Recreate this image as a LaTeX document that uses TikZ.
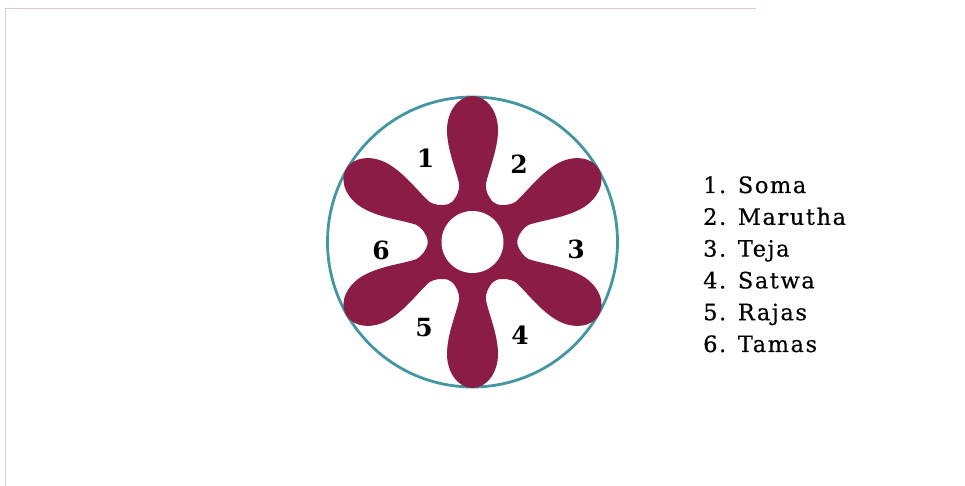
\documentclass[tikz,border=0pt]{standalone}
\usepackage{fontspec}
\setmainfont{DejaVu Serif}
\newfontfamily\legendfont[LetterSpace=7,FakeBold=0.5]{DejaVu Serif}
\definecolor{petal}{RGB}{138,28,70}
\definecolor{rim}{RGB}{68,150,162}
\definecolor{scan}{RGB}{228,196,210}
\tikzset{
  numlabel/.style={font=\bfseries\fontsize{25}{29}\selectfont, inner sep=0pt},
  legendline/.style={font=\legendfont\fontsize{22.5}{26}\selectfont, anchor=base west, inner sep=0pt},
  petalshape/.pic={
    \fill[petal] (38,-22) .. controls (46,-15) and (51,-13.4) .. (57,-13.2)
      .. controls (70,-15.5) and (92,-25.5) .. (112,-25.5)
      arc[start angle=-90, end angle=90, x radius=34, y radius=25.5]
      .. controls (92,25.5) and (70,15.5) .. (57,13.2)
      .. controls (51,13.4) and (46,15) .. (38,22) -- cycle;
  }
}
\begin{document}
\begin{tikzpicture}[x=1pt,y=1pt]
\useasboundingbox (0,0) rectangle (965,486);
% faint scan edges
\coordinate (tl) at (5,478);
\coordinate (tr) at (756,478);
\coordinate (bl) at (5,0);
\draw[scan, line width=0.6pt] (tr) -- (tl) -- (bl);
% outer circle
\coordinate (c) at (472.5,244);
\draw[rim, line width=2.8pt, fill=white] (c) circle[radius=145];
% flower
\fill[petal] (c) circle[radius=45];
\foreach \a in {90,30,-30,-90,-150,150}{
  \pic[shift={(c)}, rotate=\a] {petalshape};
}
\fill[white] (c) circle[radius=31];
% numbers
\node[numlabel] (n1) at (425.5,327.5) {1};
\node[numlabel] (n2) at (519,322) {2};
\node[numlabel] (n3) at (576,236.5) {3};
\node[numlabel] (n4) at (520,151) {4};
\node[numlabel] (n5) at (424,158) {5};
\node[numlabel] (n6) at (381,235.5) {6};
% legend
\node[legendline] (l1) at (703,293) {1. Soma};
\node[legendline] (l2) at (703,261.2) {2. Marutha};
\node[legendline] (l3) at (703,229.4) {3. Teja};
\node[legendline] (l4) at (703,197.6) {4. Satwa};
\node[legendline] (l5) at (703,165.8) {5. Rajas};
\node[legendline] (l6) at (703,134) {6. Tamas};
\end{tikzpicture}
\end{document}
